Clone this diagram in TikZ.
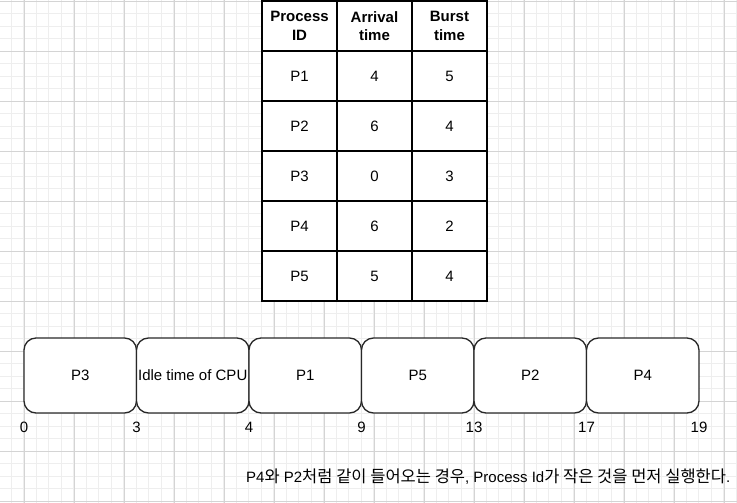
\documentclass[tikz,border=0pt]{standalone}
\usepackage{fontspec}
\setmainfont{Liberation Sans}
\newfontfamily\kr[Scale=1.1]{Noto Sans CJK KR}
\usetikzlibrary{positioning}
\definecolor{gridminor}{RGB}{238,238,238}
\definecolor{gridmajor}{RGB}{212,212,212}
\definecolor{slotline}{RGB}{40,40,40}

\begin{document}
\begin{tikzpicture}[x=1pt, y=-1pt,
  every node/.style={font=\fontsize{15}{18.5}\selectfont},
  tabcell/.style={draw=black, line width=1.3pt, fill=white, inner sep=0,
    outer sep=0, minimum width=75pt, minimum height=50pt, align=center},
  slot/.style={draw=slotline, line width=1.3pt, fill=white, rounded corners=12pt,
    inner sep=0, outer sep=0, minimum width=112.5pt, minimum height=75pt},
  tick/.style={inner sep=0}]
  \useasboundingbox (0,0) rectangle (737,503);
  \fill[white] (0,0) rectangle (737,503);

  % background grid
  \foreach \i in {1,...,59}
    \draw[gridminor, line width=0.7pt] ({-1.5+12.5*\i},0) -- ++(0,503);
  \foreach \i in {0,...,40}
    \draw[gridminor, line width=0.7pt] (0,{1+12.5*\i}) -- ++(737,0);
  \foreach \i in {0,...,14}
    \draw[gridmajor, line width=0.8pt] ({24+50*\i},0) -- ++(0,503);
  \foreach \i in {0,...,10}
    \draw[gridmajor, line width=0.8pt] (0,{1+50*\i}) -- ++(737,0);

  % process table
  \node[tabcell] (hid) at (299.5,26) {\textbf{Process}\\\textbf{ID}};
  \node[tabcell, right=0pt of hid] (harr) {\textbf{Arrival}\\\textbf{time}};
  \node[tabcell, right=0pt of harr] (hbur) {\textbf{Burst}\\\textbf{time}};
  \foreach \pid/\arr/\bur [count=\k] in {P1/4/5, P2/6/4, P3/0/3, P4/6/2, P5/5/4} {
    \node[tabcell] (id\k) at (299.5,{26+50*\k}) {\pid};
    \node[tabcell, right=0pt of id\k] (arr\k) {\arr};
    \node[tabcell, right=0pt of arr\k] (bur\k) {\bur};
  }

  % gantt chart
  \node[slot] (p3) at (80.25,375.5) {P3};
  \node[slot, right=0pt of p3] (idle) {Idle time of CPU};
  \node[slot, right=0pt of idle] (p1) {P1};
  \node[slot, right=0pt of p1] (p5) {P5};
  \node[slot, right=0pt of p5] (p2) {P2};
  \node[slot, right=0pt of p2] (p4) {P4};

  \node[tick] (t0) at ([yshift=-14pt] p3.south west) {0};
  \node[tick] (t3) at ([yshift=-14pt] p3.south east) {3};
  \node[tick] (t4) at ([yshift=-14pt] idle.south east) {4};
  \node[tick] (t9) at ([yshift=-14pt] p1.south east) {9};
  \node[tick] (t13) at ([yshift=-14pt] p5.south east) {13};
  \node[tick] (t17) at ([yshift=-14pt] p2.south east) {17};
  \node[tick] (t19) at ([yshift=-14pt] p4.south east) {19};

  \node[anchor=west, inner sep=0] (note) at (246,477)
  {P4{\kr 와} P2{\kr 처럼 같이 들어오는 경우}, Process Id{\kr 가 작은 것을 먼저 실행한다}.};
\end{tikzpicture}
\end{document}
